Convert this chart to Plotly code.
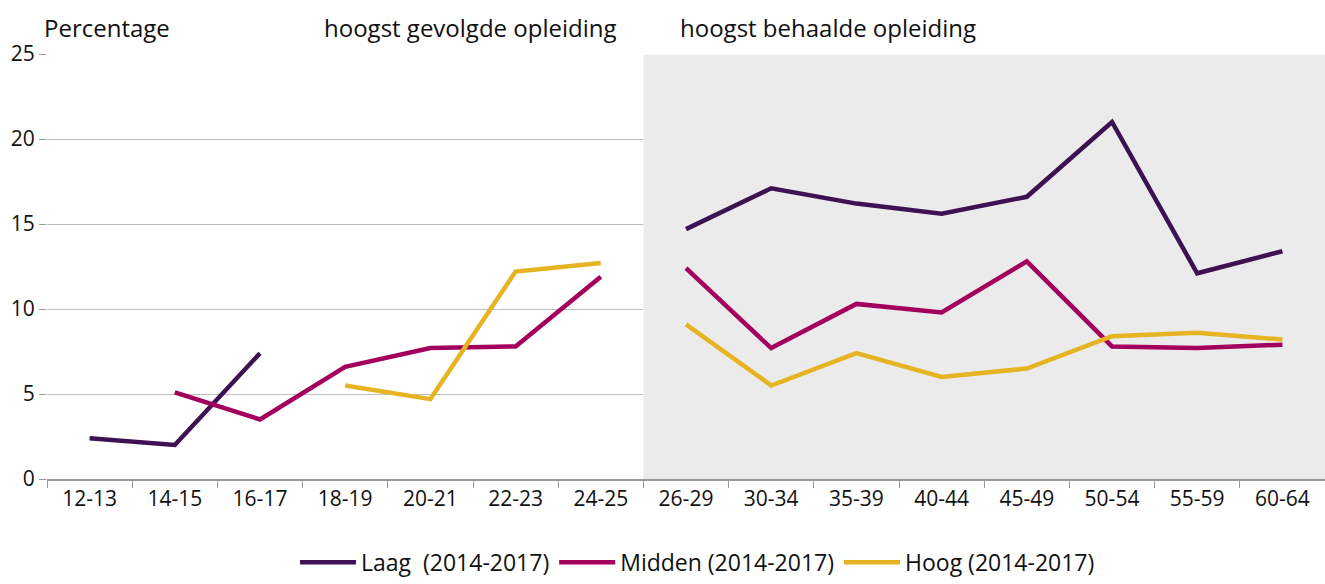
import plotly.graph_objects as go

categories = ["12-13", "14-15", "16-17", "18-19", "20-21", "22-23", "24-25",
              "26-29", "30-34", "35-39", "40-44", "45-49", "50-54", "55-59", "60-64"]

# first 7 categories: hoogst gevolgde opleiding; last 8: hoogst behaalde opleiding
laag = [2.4, 2.0, 7.4, None, None, None, None,
        14.7, 17.1, 16.2, 15.6, 16.6, 21.0, 12.1, 13.4]
midden = [None, 5.1, 3.5, 6.6, 7.7, 7.8, 11.9,
          12.4, 7.7, 10.3, 9.8, 12.8, 7.8, 7.7, 7.9]
hoog = [None, None, None, 5.5, 4.7, 12.2, 12.7,
        9.1, 5.5, 7.4, 6.0, 6.5, 8.4, 8.6, 8.2]

series_names = ["Laag  (2014-2017)", "Midden (2014-2017)", "Hoog (2014-2017)"]
colors = ["#3D1152", "#A3005E", "#E6B422"]

y_ticks = [0, 5, 10, 15, 20, 25]
split = 7

FONT = "Open Sans"

fig = go.Figure()
for name, vals, col in zip(series_names, [laag, midden, hoog], colors):
    for part, (xs, ys) in enumerate([(categories[:split], vals[:split]),
                                     (categories[split:], vals[split:])]):
        fig.add_trace(go.Scatter(
            x=xs, y=ys, name=name, mode="lines", legendgroup=name,
            showlegend=(part == 0),
            line=dict(color=col, width=4.5), connectgaps=False,
            hoverinfo="skip",
        ))

# shaded region for "hoogst behaalde opleiding"
fig.add_shape(type="rect", xref="x", yref="y",
              x0=split - 0.5, x1=len(categories) - 0.5, y0=0, y1=24.95,
              fillcolor="#EBEBEB", line=dict(width=0), layer="between")

title_font = dict(family=FONT, size=24, color="#111")
fig.add_annotation(text="Percentage", xref="paper", yref="paper",
                   x=-0.004, y=1.063, xanchor="left", yanchor="middle",
                   showarrow=False, font=title_font)
fig.add_annotation(text="hoogst gevolgde opleiding", xref="paper", yref="paper",
                   x=0.331, y=1.063, xanchor="center", yanchor="middle",
                   showarrow=False, font=title_font)
fig.add_annotation(text="hoogst behaalde opleiding", xref="paper", yref="paper",
                   x=0.611, y=1.063, xanchor="center", yanchor="middle",
                   showarrow=False, font=title_font)

fig.update_layout(
    width=1325, height=584,
    margin=dict(l=47, r=0, t=54, b=105, autoexpand=False),
    plot_bgcolor="white", paper_bgcolor="white",
    font=dict(family=FONT, size=20, color="#111"),
    showlegend=True,
    legend=dict(orientation="h", x=0.509, xanchor="center",
                y=-0.2465, yanchor="bottom",
                font=dict(family=FONT, size=23, color="#111"),
                itemwidth=56, tracegroupgap=0, bgcolor="rgba(0,0,0,0)"),
    xaxis=dict(
        type="category", categoryorder="array", categoryarray=categories,
        range=[-0.5, 14.5], tickson="boundaries", ticks="outside", ticklen=7,
        tickcolor="#999", showline=True, linecolor="#999", linewidth=1.5,
        showgrid=False, tickfont=dict(family=FONT, size=21, color="#111"),
        fixedrange=True, automargin=False,
    ),
    yaxis=dict(
        range=[0, 25], tickvals=y_ticks, ticks="outside", ticklen=7,
        tickcolor="#999", showline=False, showgrid=True, gridcolor="#BDBDBD",
        gridwidth=1.2, zeroline=False, automargin=False,
        tickfont=dict(family=FONT, size=21, color="#111"), fixedrange=True,
    ),
)

fig.write_html(
    "out.html",
    config={"displayModeBar": False},
    post_script="document.body.style.margin='0';document.body.style.overflow='hidden';",
)
